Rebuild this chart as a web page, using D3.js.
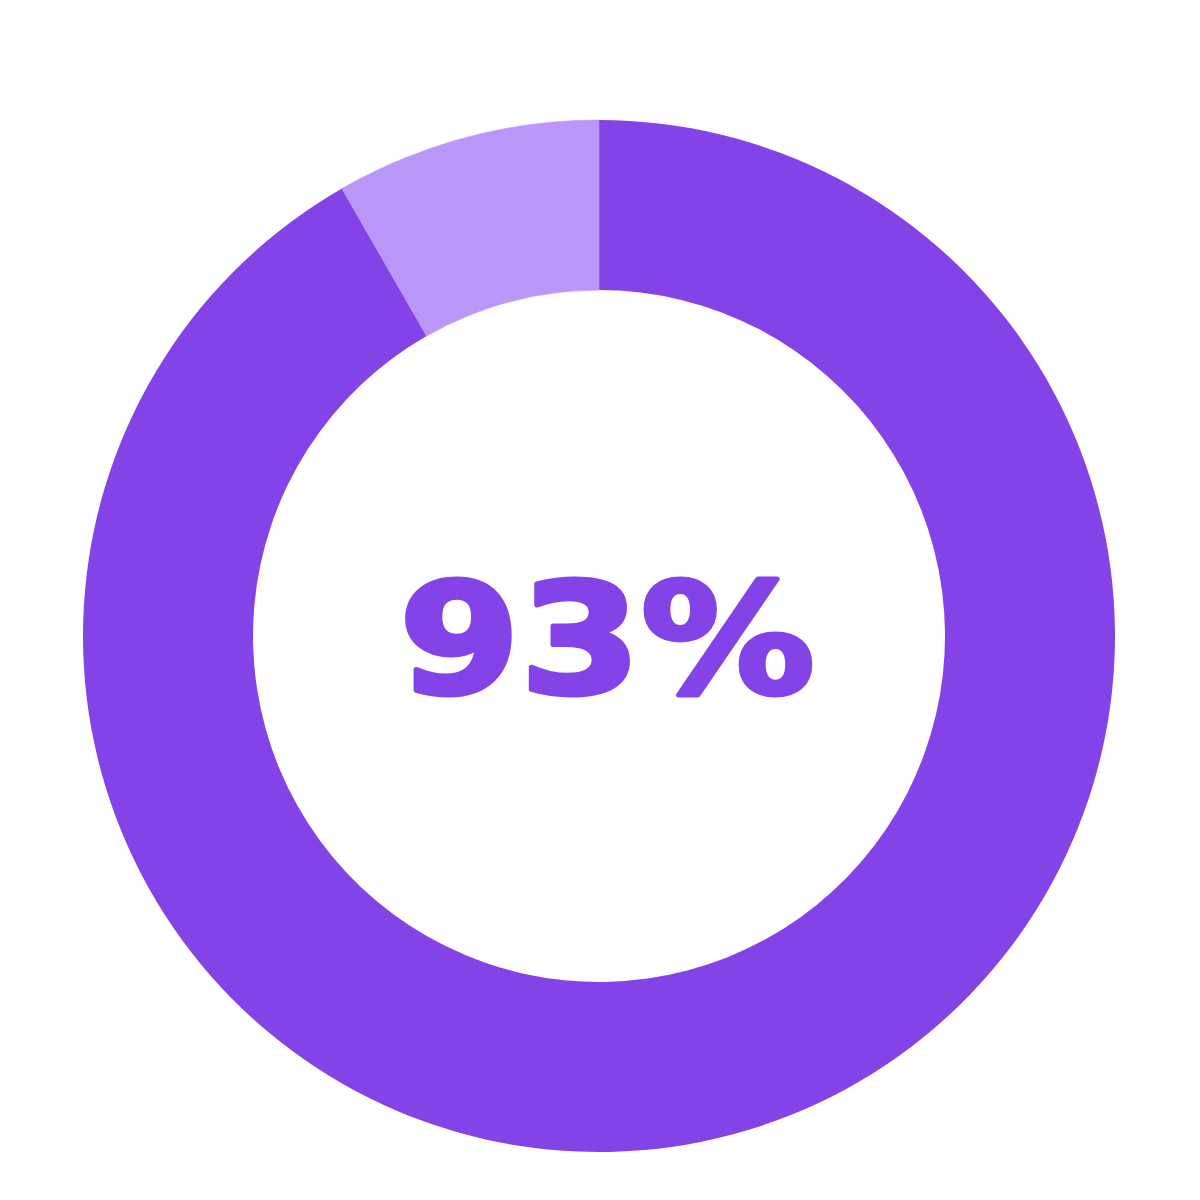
<!DOCTYPE html>
<html lang="en">
<head>
    <meta charset="UTF-8">
    <title>93% Donut</title>
    <script src="https://d3js.org/d3.v7.min.js"></script>
    <style>
        html, body { margin: 0; padding: 0; background: #fff; }
        svg { display: block; }
        .center-label {
            font-family: "DejaVu Sans", sans-serif;
            font-weight: bold;
        }
    </style>
</head>
<body>
    <svg width="1200" height="1200"></svg>
    <script>
        const categories = ["Share", "Rest A", "Rest B"];
        const values = [91.7, 2.2, 6.1];
        const colours = ["#8443E7", "#B996F8", "#B996F8"];
        const centerText = "93%";

        const width = 1200, height = 1200;
        const cx = 599, cy = 636, outerR = 516, innerR = 346;

        const svg = d3.select("svg")
            .attr("width", width)
            .attr("height", height);

        const g = svg.append("g")
            .attr("transform", `translate(${cx},${cy})`);

        const pie = d3.pie().sort(null).value(d => d.value);
        const arc = d3.arc().innerRadius(innerR).outerRadius(outerR);

        const data = categories.map((c, i) => ({ name: c, value: values[i], colour: colours[i] }));

        g.selectAll("path.slice")
            .data(pie(data))
            .enter().append("path")
            .attr("class", "slice")
            .attr("d", arc)
            .attr("fill", d => d.data.colour)
            .attr("stroke", d => d.data.colour)
            .attr("stroke-width", d => d.index === 0 ? 0 : 0.6);

        // heavy wide numeral: bold face stretched and thickened with a stroke
        g.append("text")
            .attr("class", "center-label")
            .attr("x", 8)
            .attr("y", 57)
            .attr("text-anchor", "middle")
            .attr("font-size", 154)
            .attr("textLength", 416)
            .attr("lengthAdjust", "spacingAndGlyphs")
            .attr("fill", "#8443E7")
            .attr("stroke", "#8443E7")
            .attr("stroke-width", 5)
            .attr("stroke-linejoin", "round")
            .text(centerText);
    </script>
</body>
</html>
